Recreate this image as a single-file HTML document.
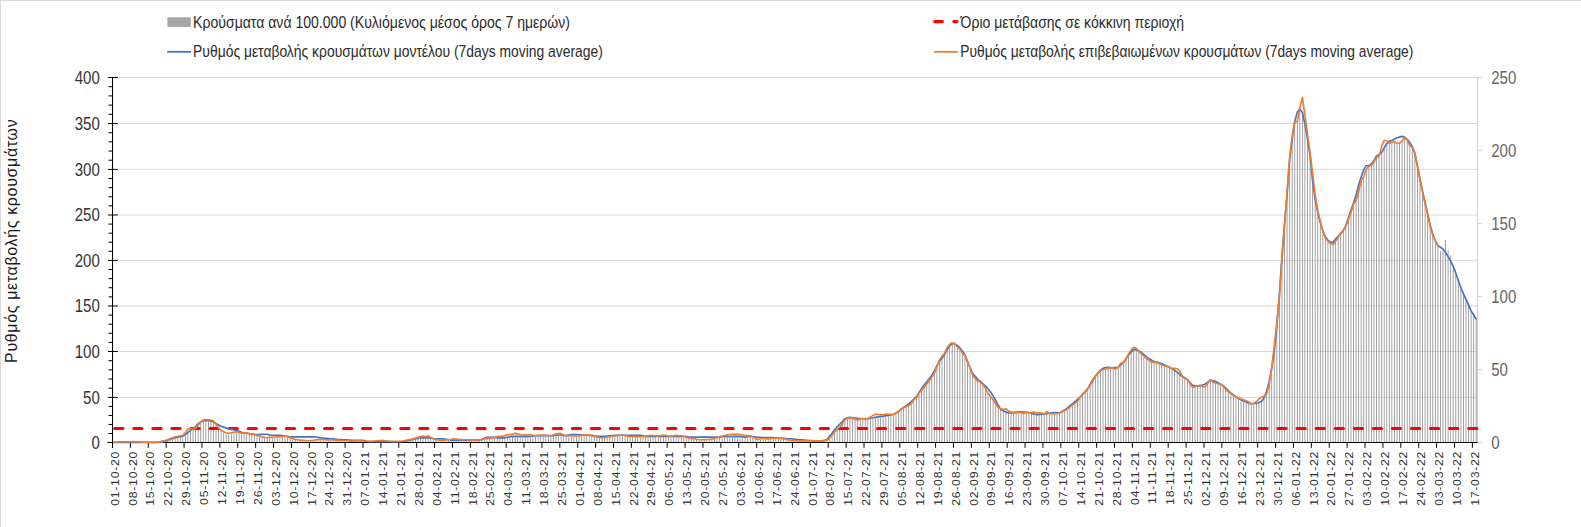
<!DOCTYPE html>
<html lang="el"><head><meta charset="utf-8"><title>Ρυθμός μεταβολής κρουσμάτων</title>
<style>html,body{margin:0;padding:0;background:#fff;overflow:hidden}svg{display:block}text{font-family:"Liberation Sans",sans-serif}.n{font-size:18.4px;fill:#333}.r{font-size:18.4px;fill:#666}.l{font-size:16.6px;fill:#2a2a2a}.d{font-size:11.2px;fill:#303030;letter-spacing:0.64px}.t{font-size:15.9px;fill:#1a1a1a}</style></head><body>
<svg width="1581" height="527" viewBox="0 0 1581 527">
<rect width="1581" height="527" fill="#fff"/>
<rect x="0" y="0" width="1581" height="1" fill="#d9d9d9"/><rect x="0" y="0" width="1" height="527" fill="#d9d9d9"/>
<g stroke="#d9d9d9" stroke-width="1">
<line x1="119" y1="397.40" x2="1477.5" y2="397.40"/>
<line x1="119" y1="351.50" x2="1477.5" y2="351.50"/>
<line x1="119" y1="306.00" x2="1477.5" y2="306.00"/>
<line x1="119" y1="260.40" x2="1477.5" y2="260.40"/>
<line x1="119" y1="215.00" x2="1477.5" y2="215.00"/>
<line x1="119" y1="169.40" x2="1477.5" y2="169.40"/>
<line x1="119" y1="123.50" x2="1477.5" y2="123.50"/>
<line x1="119" y1="77.50" x2="1477.5" y2="77.50"/>
</g>
<g fill="#909090">
<path d="M164.48 441.8h0.85V442.5h-0.85zM167.03 440.8h0.85V442.5h-0.85zM169.59 439.9h0.85V442.5h-0.85zM172.15 439.2h0.85V442.5h-0.85zM174.70 438.4h0.85V442.5h-0.85zM177.26 437.8h0.85V442.5h-0.85zM179.81 437.2h0.85V442.5h-0.85zM182.37 436.7h0.85V442.5h-0.85zM184.93 435.2h0.85V442.5h-0.85zM187.48 432.9h0.85V442.5h-0.85zM190.04 431.0h0.85V442.5h-0.85zM192.59 429.4h0.85V442.5h-0.85zM195.15 429.1h0.85V442.5h-0.85zM197.71 425.9h0.85V442.5h-0.85zM200.26 422.6h0.85V442.5h-0.85zM202.82 421.4h0.85V442.5h-0.85zM205.38 421.1h0.85V442.5h-0.85zM207.93 421.3h0.85V442.5h-0.85zM210.49 421.6h0.85V442.5h-0.85zM213.04 422.5h0.85V442.5h-0.85zM215.60 424.7h0.85V442.5h-0.85zM218.16 428.5h0.85V442.5h-0.85zM220.71 430.5h0.85V442.5h-0.85zM223.27 432.5h0.85V442.5h-0.85zM225.82 433.3h0.85V442.5h-0.85zM228.38 433.9h0.85V442.5h-0.85zM230.94 433.4h0.85V442.5h-0.85zM233.49 432.9h0.85V442.5h-0.85zM236.05 432.4h0.85V442.5h-0.85zM238.61 433.1h0.85V442.5h-0.85zM241.16 433.9h0.85V442.5h-0.85zM243.72 433.5h0.85V442.5h-0.85zM246.27 433.7h0.85V442.5h-0.85zM248.83 434.2h0.85V442.5h-0.85zM251.39 434.7h0.85V442.5h-0.85zM253.94 435.2h0.85V442.5h-0.85zM256.50 435.8h0.85V442.5h-0.85zM259.06 436.7h0.85V442.5h-0.85zM261.61 437.4h0.85V442.5h-0.85zM264.17 438.0h0.85V442.5h-0.85zM266.72 438.3h0.85V442.5h-0.85zM269.28 438.0h0.85V442.5h-0.85zM271.84 437.8h0.85V442.5h-0.85zM274.39 437.6h0.85V442.5h-0.85zM276.95 437.5h0.85V442.5h-0.85zM279.50 437.4h0.85V442.5h-0.85zM282.06 437.0h0.85V442.5h-0.85zM284.62 436.6h0.85V442.5h-0.85zM287.17 437.0h0.85V442.5h-0.85zM289.73 438.2h0.85V442.5h-0.85zM292.29 439.4h0.85V442.5h-0.85zM294.84 440.0h0.85V442.5h-0.85zM297.40 440.3h0.85V442.5h-0.85zM299.95 440.7h0.85V442.5h-0.85zM302.51 440.9h0.85V442.5h-0.85zM305.07 441.1h0.85V442.5h-0.85zM307.62 441.4h0.85V442.5h-0.85zM310.18 441.2h0.85V442.5h-0.85zM312.74 440.8h0.85V442.5h-0.85zM315.29 440.5h0.85V442.5h-0.85zM317.85 440.1h0.85V442.5h-0.85zM320.40 439.7h0.85V442.5h-0.85zM322.96 440.2h0.85V442.5h-0.85zM325.52 440.4h0.85V442.5h-0.85zM328.07 440.4h0.85V442.5h-0.85zM330.63 440.4h0.85V442.5h-0.85zM333.18 440.5h0.85V442.5h-0.85zM335.74 440.7h0.85V442.5h-0.85zM338.30 440.9h0.85V442.5h-0.85zM340.85 441.1h0.85V442.5h-0.85zM343.41 441.3h0.85V442.5h-0.85zM345.97 441.4h0.85V442.5h-0.85zM348.52 441.6h0.85V442.5h-0.85zM351.08 441.7h0.85V442.5h-0.85zM353.63 441.6h0.85V442.5h-0.85zM356.19 441.5h0.85V442.5h-0.85zM358.75 441.5h0.85V442.5h-0.85zM361.30 441.4h0.85V442.5h-0.85zM363.86 441.6h0.85V442.5h-0.85zM366.41 442.0h0.85V442.5h-0.85zM404.76 441.7h0.85V442.5h-0.85zM407.31 441.3h0.85V442.5h-0.85zM409.87 440.8h0.85V442.5h-0.85zM412.43 440.1h0.85V442.5h-0.85zM414.98 439.5h0.85V442.5h-0.85zM417.54 438.9h0.85V442.5h-0.85zM420.09 438.4h0.85V442.5h-0.85zM422.65 438.4h0.85V442.5h-0.85zM425.21 438.4h0.85V442.5h-0.85zM427.76 438.4h0.85V442.5h-0.85zM430.32 438.7h0.85V442.5h-0.85zM432.88 439.3h0.85V442.5h-0.85zM435.43 440.2h0.85V442.5h-0.85zM437.99 440.5h0.85V442.5h-0.85zM440.54 440.8h0.85V442.5h-0.85zM443.10 440.8h0.85V442.5h-0.85zM445.66 440.5h0.85V442.5h-0.85zM448.21 440.3h0.85V442.5h-0.85zM450.77 440.7h0.85V442.5h-0.85zM453.32 440.7h0.85V442.5h-0.85zM455.88 440.7h0.85V442.5h-0.85zM458.44 440.7h0.85V442.5h-0.85zM460.99 440.7h0.85V442.5h-0.85zM463.55 440.7h0.85V442.5h-0.85zM466.11 440.7h0.85V442.5h-0.85zM468.66 440.7h0.85V442.5h-0.85zM471.22 440.7h0.85V442.5h-0.85zM473.77 440.7h0.85V442.5h-0.85zM476.33 440.7h0.85V442.5h-0.85zM478.89 440.7h0.85V442.5h-0.85zM481.44 440.1h0.85V442.5h-0.85zM484.00 439.5h0.85V442.5h-0.85zM486.56 439.0h0.85V442.5h-0.85zM489.11 438.7h0.85V442.5h-0.85zM491.67 438.5h0.85V442.5h-0.85zM494.22 438.1h0.85V442.5h-0.85zM496.78 438.4h0.85V442.5h-0.85zM499.34 438.4h0.85V442.5h-0.85zM501.89 438.4h0.85V442.5h-0.85zM504.45 438.4h0.85V442.5h-0.85zM507.00 437.8h0.85V442.5h-0.85zM509.56 437.2h0.85V442.5h-0.85zM512.12 436.9h0.85V442.5h-0.85zM514.67 436.9h0.85V442.5h-0.85zM517.23 436.9h0.85V442.5h-0.85zM519.79 436.9h0.85V442.5h-0.85zM522.34 436.9h0.85V442.5h-0.85zM524.90 436.9h0.85V442.5h-0.85zM527.45 436.9h0.85V442.5h-0.85zM530.01 436.9h0.85V442.5h-0.85zM532.57 436.7h0.85V442.5h-0.85zM535.12 436.4h0.85V442.5h-0.85zM537.68 436.3h0.85V442.5h-0.85zM540.24 436.3h0.85V442.5h-0.85zM542.79 436.3h0.85V442.5h-0.85zM545.35 436.3h0.85V442.5h-0.85zM547.90 436.3h0.85V442.5h-0.85zM550.46 436.5h0.85V442.5h-0.85zM553.02 436.0h0.85V442.5h-0.85zM555.57 435.7h0.85V442.5h-0.85zM558.13 435.6h0.85V442.5h-0.85zM560.68 435.6h0.85V442.5h-0.85zM563.24 436.0h0.85V442.5h-0.85zM565.80 436.3h0.85V442.5h-0.85zM568.35 435.8h0.85V442.5h-0.85zM570.91 436.6h0.85V442.5h-0.85zM573.47 436.5h0.85V442.5h-0.85zM576.02 436.4h0.85V442.5h-0.85zM578.58 436.6h0.85V442.5h-0.85zM581.13 435.8h0.85V442.5h-0.85zM583.69 435.6h0.85V442.5h-0.85zM586.25 435.7h0.85V442.5h-0.85zM588.80 435.8h0.85V442.5h-0.85zM591.36 436.2h0.85V442.5h-0.85zM593.91 436.9h0.85V442.5h-0.85zM596.47 437.5h0.85V442.5h-0.85zM599.03 438.2h0.85V442.5h-0.85zM601.58 438.3h0.85V442.5h-0.85zM604.14 438.2h0.85V442.5h-0.85zM606.70 437.9h0.85V442.5h-0.85zM609.25 437.4h0.85V442.5h-0.85zM611.81 436.9h0.85V442.5h-0.85zM614.36 436.6h0.85V442.5h-0.85zM616.92 436.3h0.85V442.5h-0.85zM619.48 435.9h0.85V442.5h-0.85zM622.03 435.8h0.85V442.5h-0.85zM624.59 436.1h0.85V442.5h-0.85zM627.15 436.7h0.85V442.5h-0.85zM629.70 437.0h0.85V442.5h-0.85zM632.26 437.1h0.85V442.5h-0.85zM634.81 437.2h0.85V442.5h-0.85zM637.37 437.3h0.85V442.5h-0.85zM639.93 437.4h0.85V442.5h-0.85zM642.48 437.1h0.85V442.5h-0.85zM645.04 437.1h0.85V442.5h-0.85zM647.59 437.1h0.85V442.5h-0.85zM650.15 437.1h0.85V442.5h-0.85zM652.71 437.1h0.85V442.5h-0.85zM655.26 437.1h0.85V442.5h-0.85zM657.82 437.1h0.85V442.5h-0.85zM660.38 437.1h0.85V442.5h-0.85zM662.93 437.1h0.85V442.5h-0.85zM665.49 437.1h0.85V442.5h-0.85zM668.04 437.1h0.85V442.5h-0.85zM670.60 437.1h0.85V442.5h-0.85zM673.16 437.1h0.85V442.5h-0.85zM675.71 437.1h0.85V442.5h-0.85zM678.27 437.1h0.85V442.5h-0.85zM680.83 437.1h0.85V442.5h-0.85zM683.38 437.1h0.85V442.5h-0.85zM685.94 437.7h0.85V442.5h-0.85zM688.49 438.6h0.85V442.5h-0.85zM691.05 438.9h0.85V442.5h-0.85zM693.61 439.2h0.85V442.5h-0.85zM696.16 439.8h0.85V442.5h-0.85zM698.72 440.3h0.85V442.5h-0.85zM701.27 440.3h0.85V442.5h-0.85zM703.83 440.2h0.85V442.5h-0.85zM706.39 440.1h0.85V442.5h-0.85zM708.94 440.0h0.85V442.5h-0.85zM711.50 439.8h0.85V442.5h-0.85zM714.06 439.0h0.85V442.5h-0.85zM716.61 438.2h0.85V442.5h-0.85zM719.17 437.7h0.85V442.5h-0.85zM721.72 437.4h0.85V442.5h-0.85zM724.28 437.1h0.85V442.5h-0.85zM726.84 437.1h0.85V442.5h-0.85zM729.39 437.1h0.85V442.5h-0.85zM731.95 437.0h0.85V442.5h-0.85zM734.50 437.0h0.85V442.5h-0.85zM737.06 437.0h0.85V442.5h-0.85zM739.62 437.0h0.85V442.5h-0.85zM742.17 437.3h0.85V442.5h-0.85zM744.73 437.7h0.85V442.5h-0.85zM747.29 437.4h0.85V442.5h-0.85zM749.84 436.8h0.85V442.5h-0.85zM752.40 437.7h0.85V442.5h-0.85zM754.95 439.0h0.85V442.5h-0.85zM757.51 440.1h0.85V442.5h-0.85zM760.07 439.4h0.85V442.5h-0.85zM762.62 438.9h0.85V442.5h-0.85zM765.18 439.2h0.85V442.5h-0.85zM767.74 439.5h0.85V442.5h-0.85zM770.29 439.2h0.85V442.5h-0.85zM772.85 438.9h0.85V442.5h-0.85zM775.40 438.8h0.85V442.5h-0.85zM777.96 438.9h0.85V442.5h-0.85zM780.52 438.9h0.85V442.5h-0.85zM783.07 439.0h0.85V442.5h-0.85zM785.63 439.8h0.85V442.5h-0.85zM788.18 440.5h0.85V442.5h-0.85zM790.74 440.8h0.85V442.5h-0.85zM793.30 441.1h0.85V442.5h-0.85zM795.85 441.4h0.85V442.5h-0.85zM798.41 441.5h0.85V442.5h-0.85zM800.97 441.5h0.85V442.5h-0.85zM803.52 441.5h0.85V442.5h-0.85zM806.08 441.5h0.85V442.5h-0.85zM808.63 441.5h0.85V442.5h-0.85zM811.19 441.5h0.85V442.5h-0.85zM813.75 441.5h0.85V442.5h-0.85zM816.30 441.5h0.85V442.5h-0.85zM818.86 441.5h0.85V442.5h-0.85zM821.41 441.5h0.85V442.5h-0.85zM823.97 441.4h0.85V442.5h-0.85zM826.53 440.8h0.85V442.5h-0.85zM829.08 438.9h0.85V442.5h-0.85zM831.64 435.8h0.85V442.5h-0.85zM834.20 432.5h0.85V442.5h-0.85zM836.75 430.0h0.85V442.5h-0.85zM839.31 427.6h0.85V442.5h-0.85zM841.86 424.6h0.85V442.5h-0.85zM844.42 420.5h0.85V442.5h-0.85zM846.98 418.7h0.85V442.5h-0.85zM849.53 418.4h0.85V442.5h-0.85zM852.09 418.7h0.85V442.5h-0.85zM854.65 419.9h0.85V442.5h-0.85zM857.20 420.8h0.85V442.5h-0.85zM859.76 419.1h0.85V442.5h-0.85zM862.31 419.3h0.85V442.5h-0.85zM864.87 419.5h0.85V442.5h-0.85zM867.43 419.3h0.85V442.5h-0.85zM869.98 418.8h0.85V442.5h-0.85zM872.54 418.4h0.85V442.5h-0.85zM875.09 417.9h0.85V442.5h-0.85zM877.65 417.5h0.85V442.5h-0.85zM880.21 417.1h0.85V442.5h-0.85zM882.76 416.7h0.85V442.5h-0.85zM885.32 416.3h0.85V442.5h-0.85zM887.88 416.0h0.85V442.5h-0.85zM890.43 415.6h0.85V442.5h-0.85zM892.99 415.2h0.85V442.5h-0.85zM895.54 413.9h0.85V442.5h-0.85zM898.10 412.0h0.85V442.5h-0.85zM900.66 409.9h0.85V442.5h-0.85zM903.21 408.3h0.85V442.5h-0.85zM905.77 407.0h0.85V442.5h-0.85zM908.33 406.1h0.85V442.5h-0.85zM910.88 404.4h0.85V442.5h-0.85zM913.44 400.2h0.85V442.5h-0.85zM915.99 398.4h0.85V442.5h-0.85zM918.55 393.8h0.85V442.5h-0.85zM921.11 391.1h0.85V442.5h-0.85zM923.66 388.3h0.85V442.5h-0.85zM926.22 384.8h0.85V442.5h-0.85zM928.77 381.4h0.85V442.5h-0.85zM931.33 378.0h0.85V442.5h-0.85zM933.89 374.0h0.85V442.5h-0.85zM936.44 367.3h0.85V442.5h-0.85zM939.00 362.4h0.85V442.5h-0.85zM941.56 358.8h0.85V442.5h-0.85zM944.11 355.3h0.85V442.5h-0.85zM946.67 350.0h0.85V442.5h-0.85zM949.22 346.5h0.85V442.5h-0.85zM951.78 344.1h0.85V442.5h-0.85zM954.34 344.5h0.85V442.5h-0.85zM956.89 347.5h0.85V442.5h-0.85zM959.45 349.8h0.85V442.5h-0.85zM962.00 353.5h0.85V442.5h-0.85zM964.56 356.7h0.85V442.5h-0.85zM967.12 362.8h0.85V442.5h-0.85zM969.67 368.6h0.85V442.5h-0.85zM972.23 375.7h0.85V442.5h-0.85zM974.79 379.5h0.85V442.5h-0.85zM977.34 381.8h0.85V442.5h-0.85zM979.90 382.6h0.85V442.5h-0.85zM982.45 384.7h0.85V442.5h-0.85zM985.01 389.2h0.85V442.5h-0.85zM987.57 394.0h0.85V442.5h-0.85zM990.12 396.9h0.85V442.5h-0.85zM992.68 400.4h0.85V442.5h-0.85zM995.24 404.3h0.85V442.5h-0.85zM997.79 408.3h0.85V442.5h-0.85zM1000.35 410.0h0.85V442.5h-0.85zM1002.90 411.3h0.85V442.5h-0.85zM1005.46 412.7h0.85V442.5h-0.85zM1008.02 413.6h0.85V442.5h-0.85zM1010.57 413.6h0.85V442.5h-0.85zM1013.13 413.5h0.85V442.5h-0.85zM1015.68 413.0h0.85V442.5h-0.85zM1018.24 412.8h0.85V442.5h-0.85zM1020.80 413.1h0.85V442.5h-0.85zM1023.35 414.4h0.85V442.5h-0.85zM1025.91 412.9h0.85V442.5h-0.85zM1028.47 413.4h0.85V442.5h-0.85zM1031.02 414.0h0.85V442.5h-0.85zM1033.58 414.6h0.85V442.5h-0.85zM1036.13 415.2h0.85V442.5h-0.85zM1038.69 415.2h0.85V442.5h-0.85zM1041.25 414.9h0.85V442.5h-0.85zM1043.80 414.9h0.85V442.5h-0.85zM1046.36 414.3h0.85V442.5h-0.85zM1048.91 413.9h0.85V442.5h-0.85zM1051.47 414.5h0.85V442.5h-0.85zM1054.03 414.6h0.85V442.5h-0.85zM1056.58 414.4h0.85V442.5h-0.85zM1059.14 413.5h0.85V442.5h-0.85zM1061.70 412.4h0.85V442.5h-0.85zM1064.25 411.4h0.85V442.5h-0.85zM1066.81 409.7h0.85V442.5h-0.85zM1069.36 407.7h0.85V442.5h-0.85zM1071.92 405.8h0.85V442.5h-0.85zM1074.48 403.9h0.85V442.5h-0.85zM1077.03 401.9h0.85V442.5h-0.85zM1079.59 398.1h0.85V442.5h-0.85zM1082.15 395.1h0.85V442.5h-0.85zM1084.70 392.3h0.85V442.5h-0.85zM1087.26 389.5h0.85V442.5h-0.85zM1089.81 385.4h0.85V442.5h-0.85zM1092.37 381.1h0.85V442.5h-0.85zM1094.93 376.9h0.85V442.5h-0.85zM1097.48 374.0h0.85V442.5h-0.85zM1100.04 371.4h0.85V442.5h-0.85zM1102.59 370.4h0.85V442.5h-0.85zM1105.15 369.6h0.85V442.5h-0.85zM1107.71 369.0h0.85V442.5h-0.85zM1110.26 368.5h0.85V442.5h-0.85zM1112.82 368.6h0.85V442.5h-0.85zM1115.38 369.8h0.85V442.5h-0.85zM1117.93 367.8h0.85V442.5h-0.85zM1120.49 365.3h0.85V442.5h-0.85zM1123.04 363.6h0.85V442.5h-0.85zM1125.60 359.5h0.85V442.5h-0.85zM1128.16 355.6h0.85V442.5h-0.85zM1130.71 352.7h0.85V442.5h-0.85zM1133.27 350.0h0.85V442.5h-0.85zM1135.83 350.3h0.85V442.5h-0.85zM1138.38 351.6h0.85V442.5h-0.85zM1140.94 354.5h0.85V442.5h-0.85zM1143.49 356.7h0.85V442.5h-0.85zM1146.05 359.0h0.85V442.5h-0.85zM1148.61 361.0h0.85V442.5h-0.85zM1151.16 363.0h0.85V442.5h-0.85zM1153.72 362.8h0.85V442.5h-0.85zM1156.27 362.8h0.85V442.5h-0.85zM1158.83 364.3h0.85V442.5h-0.85zM1161.39 365.8h0.85V442.5h-0.85zM1163.94 366.4h0.85V442.5h-0.85zM1166.50 366.7h0.85V442.5h-0.85zM1169.06 368.0h0.85V442.5h-0.85zM1171.61 369.4h0.85V442.5h-0.85zM1174.17 370.9h0.85V442.5h-0.85zM1176.72 372.7h0.85V442.5h-0.85zM1179.28 374.9h0.85V442.5h-0.85zM1181.84 377.1h0.85V442.5h-0.85zM1184.39 378.7h0.85V442.5h-0.85zM1186.95 380.3h0.85V442.5h-0.85zM1189.50 383.7h0.85V442.5h-0.85zM1192.06 388.0h0.85V442.5h-0.85zM1194.62 387.3h0.85V442.5h-0.85zM1197.17 386.8h0.85V442.5h-0.85zM1199.73 386.5h0.85V442.5h-0.85zM1202.29 387.0h0.85V442.5h-0.85zM1204.84 387.5h0.85V442.5h-0.85zM1207.40 383.8h0.85V442.5h-0.85zM1209.95 380.9h0.85V442.5h-0.85zM1212.51 382.2h0.85V442.5h-0.85zM1215.07 383.9h0.85V442.5h-0.85zM1217.62 384.2h0.85V442.5h-0.85zM1220.18 384.8h0.85V442.5h-0.85zM1222.74 386.6h0.85V442.5h-0.85zM1225.29 389.9h0.85V442.5h-0.85zM1227.85 392.1h0.85V442.5h-0.85zM1230.40 394.2h0.85V442.5h-0.85zM1232.96 396.0h0.85V442.5h-0.85zM1235.52 397.5h0.85V442.5h-0.85zM1238.07 398.9h0.85V442.5h-0.85zM1240.63 400.3h0.85V442.5h-0.85zM1243.18 401.7h0.85V442.5h-0.85zM1245.74 402.7h0.85V442.5h-0.85zM1248.30 403.5h0.85V442.5h-0.85zM1250.85 404.6h0.85V442.5h-0.85zM1253.41 404.1h0.85V442.5h-0.85zM1255.97 403.9h0.85V442.5h-0.85zM1258.52 403.1h0.85V442.5h-0.85zM1261.08 402.1h0.85V442.5h-0.85zM1263.63 398.4h0.85V442.5h-0.85zM1266.19 394.8h0.85V442.5h-0.85zM1268.75 384.8h0.85V442.5h-0.85zM1271.30 368.8h0.85V442.5h-0.85zM1273.86 351.6h0.85V442.5h-0.85zM1276.41 326.5h0.85V442.5h-0.85zM1278.97 297.5h0.85V442.5h-0.85zM1281.53 259.6h0.85V442.5h-0.85zM1284.08 226.9h0.85V442.5h-0.85zM1286.64 194.8h0.85V442.5h-0.85zM1289.20 160.5h0.85V442.5h-0.85zM1291.75 139.8h0.85V442.5h-0.85zM1294.31 122.3h0.85V442.5h-0.85zM1296.86 122.2h0.85V442.5h-0.85zM1299.42 109.5h0.85V442.5h-0.85zM1301.98 113.1h0.85V442.5h-0.85zM1304.53 124.8h0.85V442.5h-0.85zM1307.09 139.5h0.85V442.5h-0.85zM1309.65 156.1h0.85V442.5h-0.85zM1312.20 181.4h0.85V442.5h-0.85zM1314.76 200.5h0.85V442.5h-0.85zM1317.31 212.8h0.85V442.5h-0.85zM1319.87 222.8h0.85V442.5h-0.85zM1322.43 231.8h0.85V442.5h-0.85zM1324.98 238.8h0.85V442.5h-0.85zM1327.54 241.9h0.85V442.5h-0.85zM1330.09 244.0h0.85V442.5h-0.85zM1332.65 245.4h0.85V442.5h-0.85zM1335.21 241.9h0.85V442.5h-0.85zM1337.76 238.0h0.85V442.5h-0.85zM1340.32 234.4h0.85V442.5h-0.85zM1342.88 231.2h0.85V442.5h-0.85zM1345.43 226.8h0.85V442.5h-0.85zM1347.99 220.2h0.85V442.5h-0.85zM1350.54 212.5h0.85V442.5h-0.85zM1353.10 205.1h0.85V442.5h-0.85zM1355.66 200.7h0.85V442.5h-0.85zM1358.21 192.7h0.85V442.5h-0.85zM1360.77 180.9h0.85V442.5h-0.85zM1363.33 177.2h0.85V442.5h-0.85zM1365.88 169.8h0.85V442.5h-0.85zM1368.44 166.9h0.85V442.5h-0.85zM1370.99 166.2h0.85V442.5h-0.85zM1373.55 162.3h0.85V442.5h-0.85zM1376.11 158.3h0.85V442.5h-0.85zM1378.66 156.7h0.85V442.5h-0.85zM1381.22 152.9h0.85V442.5h-0.85zM1383.77 148.5h0.85V442.5h-0.85zM1386.33 144.2h0.85V442.5h-0.85zM1388.89 144.0h0.85V442.5h-0.85zM1391.44 142.9h0.85V442.5h-0.85zM1394.00 142.4h0.85V442.5h-0.85zM1396.56 143.8h0.85V442.5h-0.85zM1399.11 143.8h0.85V442.5h-0.85zM1401.67 141.7h0.85V442.5h-0.85zM1404.22 138.2h0.85V442.5h-0.85zM1406.78 140.6h0.85V442.5h-0.85zM1409.34 146.2h0.85V442.5h-0.85zM1411.89 147.8h0.85V442.5h-0.85zM1414.45 154.5h0.85V442.5h-0.85zM1417.00 166.6h0.85V442.5h-0.85zM1419.56 180.1h0.85V442.5h-0.85zM1422.12 192.1h0.85V442.5h-0.85zM1424.67 204.1h0.85V442.5h-0.85zM1427.23 215.9h0.85V442.5h-0.85zM1429.79 226.7h0.85V442.5h-0.85zM1432.34 236.1h0.85V442.5h-0.85zM1434.90 241.3h0.85V442.5h-0.85zM1437.45 246.8h0.85V442.5h-0.85zM1440.01 251.1h0.85V442.5h-0.85zM1442.57 251.1h0.85V442.5h-0.85zM1445.12 240.0h0.85V442.5h-0.85zM1447.68 249.8h0.85V442.5h-0.85zM1450.24 255.3h0.85V442.5h-0.85zM1452.79 266.9h0.85V442.5h-0.85zM1455.35 273.7h0.85V442.5h-0.85zM1457.90 281.1h0.85V442.5h-0.85zM1460.46 288.5h0.85V442.5h-0.85zM1463.02 294.2h0.85V442.5h-0.85zM1465.57 299.9h0.85V442.5h-0.85zM1468.13 305.7h0.85V442.5h-0.85zM1470.68 311.5h0.85V442.5h-0.85zM1473.24 315.6h0.85V442.5h-0.85zM1475.80 319.7h0.85V442.5h-0.85z"/>
</g>
<g stroke="#d0d0d0" stroke-width="1">
<line x1="1477.5" y1="77" x2="1477.5" y2="443"/>
<line x1="1477.5" y1="442.50" x2="1482.0" y2="442.50"/>
<line x1="1477.5" y1="369.50" x2="1482.0" y2="369.50"/>
<line x1="1477.5" y1="296.50" x2="1482.0" y2="296.50"/>
<line x1="1477.5" y1="223.50" x2="1482.0" y2="223.50"/>
<line x1="1477.5" y1="150.50" x2="1482.0" y2="150.50"/>
<line x1="1477.5" y1="77.50" x2="1482.0" y2="77.50"/>
</g>
<g stroke="#000" stroke-width="1">
<line x1="112.5" y1="77" x2="112.5" y2="448"/>
<line x1="107.9" y1="442.50" x2="117.9" y2="442.50"/>
<line x1="108.5" y1="433.48" x2="112.5" y2="433.48"/>
<line x1="108.5" y1="424.46" x2="112.5" y2="424.46"/>
<line x1="108.5" y1="415.44" x2="112.5" y2="415.44"/>
<line x1="108.5" y1="406.42" x2="112.5" y2="406.42"/>
<line x1="107.9" y1="397.40" x2="117.9" y2="397.40"/>
<line x1="108.5" y1="388.22" x2="112.5" y2="388.22"/>
<line x1="108.5" y1="379.04" x2="112.5" y2="379.04"/>
<line x1="108.5" y1="369.86" x2="112.5" y2="369.86"/>
<line x1="108.5" y1="360.68" x2="112.5" y2="360.68"/>
<line x1="107.9" y1="351.50" x2="117.9" y2="351.50"/>
<line x1="108.5" y1="342.40" x2="112.5" y2="342.40"/>
<line x1="108.5" y1="333.30" x2="112.5" y2="333.30"/>
<line x1="108.5" y1="324.20" x2="112.5" y2="324.20"/>
<line x1="108.5" y1="315.10" x2="112.5" y2="315.10"/>
<line x1="107.9" y1="306.00" x2="117.9" y2="306.00"/>
<line x1="108.5" y1="296.88" x2="112.5" y2="296.88"/>
<line x1="108.5" y1="287.76" x2="112.5" y2="287.76"/>
<line x1="108.5" y1="278.64" x2="112.5" y2="278.64"/>
<line x1="108.5" y1="269.52" x2="112.5" y2="269.52"/>
<line x1="107.9" y1="260.40" x2="117.9" y2="260.40"/>
<line x1="108.5" y1="251.32" x2="112.5" y2="251.32"/>
<line x1="108.5" y1="242.24" x2="112.5" y2="242.24"/>
<line x1="108.5" y1="233.16" x2="112.5" y2="233.16"/>
<line x1="108.5" y1="224.08" x2="112.5" y2="224.08"/>
<line x1="107.9" y1="215.00" x2="117.9" y2="215.00"/>
<line x1="108.5" y1="205.88" x2="112.5" y2="205.88"/>
<line x1="108.5" y1="196.76" x2="112.5" y2="196.76"/>
<line x1="108.5" y1="187.64" x2="112.5" y2="187.64"/>
<line x1="108.5" y1="178.52" x2="112.5" y2="178.52"/>
<line x1="107.9" y1="169.40" x2="117.9" y2="169.40"/>
<line x1="108.5" y1="160.22" x2="112.5" y2="160.22"/>
<line x1="108.5" y1="151.04" x2="112.5" y2="151.04"/>
<line x1="108.5" y1="141.86" x2="112.5" y2="141.86"/>
<line x1="108.5" y1="132.68" x2="112.5" y2="132.68"/>
<line x1="107.9" y1="123.50" x2="117.9" y2="123.50"/>
<line x1="108.5" y1="114.30" x2="112.5" y2="114.30"/>
<line x1="108.5" y1="105.10" x2="112.5" y2="105.10"/>
<line x1="108.5" y1="95.90" x2="112.5" y2="95.90"/>
<line x1="108.5" y1="86.70" x2="112.5" y2="86.70"/>
<line x1="107.9" y1="77.50" x2="117.9" y2="77.50"/>
<line x1="107.5" y1="442.5" x2="1477.5" y2="442.5"/>
<line x1="112.50" y1="442.5" x2="112.50" y2="447.8"/>
<line x1="130.39" y1="442.5" x2="130.39" y2="447.8"/>
<line x1="148.29" y1="442.5" x2="148.29" y2="447.8"/>
<line x1="166.18" y1="442.5" x2="166.18" y2="447.8"/>
<line x1="184.07" y1="442.5" x2="184.07" y2="447.8"/>
<line x1="201.97" y1="442.5" x2="201.97" y2="447.8"/>
<line x1="219.86" y1="442.5" x2="219.86" y2="447.8"/>
<line x1="237.75" y1="442.5" x2="237.75" y2="447.8"/>
<line x1="255.65" y1="442.5" x2="255.65" y2="447.8"/>
<line x1="273.54" y1="442.5" x2="273.54" y2="447.8"/>
<line x1="291.43" y1="442.5" x2="291.43" y2="447.8"/>
<line x1="309.33" y1="442.5" x2="309.33" y2="447.8"/>
<line x1="327.22" y1="442.5" x2="327.22" y2="447.8"/>
<line x1="345.11" y1="442.5" x2="345.11" y2="447.8"/>
<line x1="363.01" y1="442.5" x2="363.01" y2="447.8"/>
<line x1="380.90" y1="442.5" x2="380.90" y2="447.8"/>
<line x1="398.79" y1="442.5" x2="398.79" y2="447.8"/>
<line x1="416.69" y1="442.5" x2="416.69" y2="447.8"/>
<line x1="434.58" y1="442.5" x2="434.58" y2="447.8"/>
<line x1="452.47" y1="442.5" x2="452.47" y2="447.8"/>
<line x1="470.37" y1="442.5" x2="470.37" y2="447.8"/>
<line x1="488.26" y1="442.5" x2="488.26" y2="447.8"/>
<line x1="506.15" y1="442.5" x2="506.15" y2="447.8"/>
<line x1="524.04" y1="442.5" x2="524.04" y2="447.8"/>
<line x1="541.94" y1="442.5" x2="541.94" y2="447.8"/>
<line x1="559.83" y1="442.5" x2="559.83" y2="447.8"/>
<line x1="577.72" y1="442.5" x2="577.72" y2="447.8"/>
<line x1="595.62" y1="442.5" x2="595.62" y2="447.8"/>
<line x1="613.51" y1="442.5" x2="613.51" y2="447.8"/>
<line x1="631.40" y1="442.5" x2="631.40" y2="447.8"/>
<line x1="649.30" y1="442.5" x2="649.30" y2="447.8"/>
<line x1="667.19" y1="442.5" x2="667.19" y2="447.8"/>
<line x1="685.08" y1="442.5" x2="685.08" y2="447.8"/>
<line x1="702.98" y1="442.5" x2="702.98" y2="447.8"/>
<line x1="720.87" y1="442.5" x2="720.87" y2="447.8"/>
<line x1="738.76" y1="442.5" x2="738.76" y2="447.8"/>
<line x1="756.66" y1="442.5" x2="756.66" y2="447.8"/>
<line x1="774.55" y1="442.5" x2="774.55" y2="447.8"/>
<line x1="792.44" y1="442.5" x2="792.44" y2="447.8"/>
<line x1="810.34" y1="442.5" x2="810.34" y2="447.8"/>
<line x1="828.23" y1="442.5" x2="828.23" y2="447.8"/>
<line x1="846.12" y1="442.5" x2="846.12" y2="447.8"/>
<line x1="864.02" y1="442.5" x2="864.02" y2="447.8"/>
<line x1="881.91" y1="442.5" x2="881.91" y2="447.8"/>
<line x1="899.80" y1="442.5" x2="899.80" y2="447.8"/>
<line x1="917.70" y1="442.5" x2="917.70" y2="447.8"/>
<line x1="935.59" y1="442.5" x2="935.59" y2="447.8"/>
<line x1="953.48" y1="442.5" x2="953.48" y2="447.8"/>
<line x1="971.38" y1="442.5" x2="971.38" y2="447.8"/>
<line x1="989.27" y1="442.5" x2="989.27" y2="447.8"/>
<line x1="1007.16" y1="442.5" x2="1007.16" y2="447.8"/>
<line x1="1025.06" y1="442.5" x2="1025.06" y2="447.8"/>
<line x1="1042.95" y1="442.5" x2="1042.95" y2="447.8"/>
<line x1="1060.84" y1="442.5" x2="1060.84" y2="447.8"/>
<line x1="1078.74" y1="442.5" x2="1078.74" y2="447.8"/>
<line x1="1096.63" y1="442.5" x2="1096.63" y2="447.8"/>
<line x1="1114.52" y1="442.5" x2="1114.52" y2="447.8"/>
<line x1="1132.42" y1="442.5" x2="1132.42" y2="447.8"/>
<line x1="1150.31" y1="442.5" x2="1150.31" y2="447.8"/>
<line x1="1168.20" y1="442.5" x2="1168.20" y2="447.8"/>
<line x1="1186.10" y1="442.5" x2="1186.10" y2="447.8"/>
<line x1="1203.99" y1="442.5" x2="1203.99" y2="447.8"/>
<line x1="1221.88" y1="442.5" x2="1221.88" y2="447.8"/>
<line x1="1239.78" y1="442.5" x2="1239.78" y2="447.8"/>
<line x1="1257.67" y1="442.5" x2="1257.67" y2="447.8"/>
<line x1="1275.56" y1="442.5" x2="1275.56" y2="447.8"/>
<line x1="1293.46" y1="442.5" x2="1293.46" y2="447.8"/>
<line x1="1311.35" y1="442.5" x2="1311.35" y2="447.8"/>
<line x1="1329.24" y1="442.5" x2="1329.24" y2="447.8"/>
<line x1="1347.13" y1="442.5" x2="1347.13" y2="447.8"/>
<line x1="1365.03" y1="442.5" x2="1365.03" y2="447.8"/>
<line x1="1382.92" y1="442.5" x2="1382.92" y2="447.8"/>
<line x1="1400.81" y1="442.5" x2="1400.81" y2="447.8"/>
<line x1="1418.71" y1="442.5" x2="1418.71" y2="447.8"/>
<line x1="1436.60" y1="442.5" x2="1436.60" y2="447.8"/>
<line x1="1454.49" y1="442.5" x2="1454.49" y2="447.8"/>
<line x1="1472.39" y1="442.5" x2="1472.39" y2="447.8"/>
</g>
<line x1="114.7" y1="428.5" x2="1477.5" y2="428.5" stroke="#ff0000" stroke-width="3.1" stroke-linecap="round" stroke-dasharray="8.2 10.87"/>
<polyline fill="none" stroke="#4472c4" stroke-width="1.65" stroke-linejoin="round" stroke-linecap="round" points="113.8,442.4 116.3,442.4 118.9,442.4 121.4,442.4 124.0,442.4 126.6,442.4 129.1,442.4 131.7,442.4 134.2,442.4 136.8,442.4 139.3,442.4 141.9,442.4 144.5,442.4 147.0,442.4 149.6,442.4 152.1,442.4 154.7,442.4 157.2,442.4 159.8,442.3 162.3,442.1 164.9,441.2 167.5,440.2 170.0,439.3 172.6,438.6 175.1,437.8 177.7,437.2 180.2,436.6 182.8,436.1 185.4,434.6 187.9,432.3 190.5,430.4 193.0,428.8 195.6,426.5 198.1,423.7 200.7,422.0 203.2,420.8 205.8,420.5 208.4,420.7 210.9,421.0 213.5,421.9 216.0,423.5 218.6,424.9 221.1,426.2 223.7,427.1 226.2,428.0 228.8,428.9 231.4,429.4 233.9,429.9 236.5,430.5 239.0,431.4 241.6,432.3 244.1,432.7 246.7,433.1 249.3,433.6 251.8,433.9 254.4,434.3 256.9,434.6 259.5,434.5 262.0,434.4 264.6,434.3 267.1,434.2 269.7,435.1 272.3,435.2 274.8,435.2 277.4,435.2 279.9,435.2 282.5,435.6 285.0,436.0 287.6,436.4 290.2,436.8 292.7,436.8 295.3,436.8 297.8,436.8 300.4,436.8 302.9,436.8 305.5,436.8 308.0,436.8 310.6,436.8 313.2,436.8 315.7,437.0 318.3,437.4 320.8,437.8 323.4,438.1 325.9,438.3 328.5,438.5 331.1,438.7 333.6,438.9 336.2,439.2 338.7,439.5 341.3,439.6 343.8,439.7 346.4,439.8 348.9,440.0 351.5,440.3 354.1,440.3 356.6,440.3 359.2,440.3 361.7,440.3 364.3,440.6 366.8,441.4 369.4,441.5 372.0,441.5 374.5,441.5 377.1,441.6 379.6,441.6 382.2,441.6 384.7,441.6 387.3,441.6 389.8,441.6 392.4,441.6 395.0,441.7 397.5,441.7 400.1,441.7 402.6,441.5 405.2,441.1 407.7,440.7 410.3,440.2 412.9,439.5 415.4,438.9 418.0,438.3 420.5,437.8 423.1,437.8 425.6,437.8 428.2,437.8 430.7,438.1 433.3,438.5 435.9,438.8 438.4,438.8 441.0,438.8 443.5,438.8 446.1,439.2 448.6,439.7 451.2,440.1 453.8,440.1 456.3,440.1 458.9,440.1 461.4,440.1 464.0,440.1 466.5,440.1 469.1,440.1 471.6,440.1 474.2,440.1 476.8,440.1 479.3,440.1 481.9,439.5 484.4,438.1 487.0,437.3 489.5,437.3 492.1,437.3 494.6,437.5 497.2,437.8 499.8,437.8 502.3,437.8 504.9,437.8 507.4,437.2 510.0,436.6 512.5,436.3 515.1,436.3 517.7,436.3 520.2,436.3 522.8,436.3 525.3,436.3 527.9,436.3 530.4,436.3 533.0,436.1 535.5,435.8 538.1,435.7 540.7,435.7 543.2,435.7 545.8,435.7 548.3,435.7 550.9,435.7 553.4,435.4 556.0,435.1 558.6,435.0 561.1,435.0 563.7,435.4 566.2,435.7 568.8,435.1 571.3,434.5 573.9,434.5 576.4,434.6 579.0,434.8 581.6,434.9 584.1,435.0 586.7,435.1 589.2,435.2 591.8,435.4 594.3,435.8 596.9,436.1 599.5,436.3 602.0,436.3 604.6,436.3 607.1,436.0 609.7,435.8 612.2,435.6 614.8,435.4 617.3,435.2 619.9,435.2 622.5,435.2 625.0,435.2 627.6,435.2 630.1,435.2 632.7,435.2 635.2,435.2 637.8,435.2 640.4,435.2 642.9,435.9 645.5,436.5 648.0,436.5 650.6,436.5 653.1,436.5 655.7,436.5 658.2,436.5 660.8,436.5 663.4,436.5 665.9,436.5 668.5,436.5 671.0,436.5 673.6,436.5 676.1,436.5 678.7,436.5 681.2,436.5 683.8,436.5 686.4,436.6 688.9,436.9 691.5,437.1 694.0,437.1 696.6,437.1 699.1,437.1 701.7,437.1 704.3,437.1 706.8,437.1 709.4,437.1 711.9,437.1 714.5,437.1 717.0,437.1 719.6,437.1 722.1,436.8 724.7,436.5 727.3,436.5 729.8,436.5 732.4,436.4 734.9,436.4 737.5,436.4 740.0,436.4 742.6,436.7 745.2,437.1 747.7,436.8 750.3,436.2 752.8,436.5 755.4,436.9 757.9,437.2 760.5,437.3 763.0,437.5 765.6,437.6 768.2,437.6 770.7,437.6 773.3,437.6 775.8,437.8 778.4,438.0 780.9,438.3 783.5,438.4 786.1,438.6 788.6,438.7 791.2,438.8 793.7,439.0 796.3,439.4 798.8,439.7 801.4,439.9 803.9,440.1 806.5,440.3 809.1,440.5 811.6,440.6 814.2,440.7 816.7,440.7 819.3,440.8 821.8,440.9 824.4,440.4 827.0,439.4 829.5,436.3 832.1,433.2 834.6,429.8 837.2,426.8 839.7,424.2 842.3,421.5 844.8,418.7 847.4,417.7 850.0,417.4 852.5,417.7 855.1,418.0 857.6,418.3 860.2,418.5 862.7,418.7 865.3,418.9 867.9,418.7 870.4,418.2 873.0,417.8 875.5,417.3 878.1,416.9 880.6,416.5 883.2,416.1 885.7,415.7 888.3,415.4 890.9,415.0 893.4,414.2 896.0,413.0 898.5,411.3 901.1,409.3 903.6,407.5 906.2,405.7 908.8,403.8 911.3,401.5 913.9,399.1 916.4,396.5 919.0,392.6 921.5,388.7 924.1,385.0 926.6,381.9 929.2,378.8 931.8,375.3 934.3,371.3 936.9,365.6 939.4,361.8 942.0,358.2 944.5,354.7 947.1,349.4 949.6,345.9 952.2,343.5 954.8,343.9 957.3,345.4 959.9,347.9 962.4,351.0 965.0,355.2 967.5,361.2 970.1,368.0 972.7,373.6 975.2,376.4 977.8,379.2 980.3,382.0 982.9,384.0 985.4,385.9 988.0,388.8 990.5,391.9 993.1,395.9 995.7,400.5 998.2,405.2 1000.8,409.4 1003.3,410.7 1005.9,412.1 1008.4,413.0 1011.0,413.0 1013.6,412.9 1016.1,412.4 1018.7,411.9 1021.2,411.7 1023.8,412.0 1026.3,412.3 1028.9,412.8 1031.4,413.4 1034.0,414.0 1036.6,414.6 1039.1,414.6 1041.7,414.3 1044.2,414.0 1046.8,413.7 1049.3,413.3 1051.9,412.9 1054.5,412.5 1057.0,412.8 1059.6,412.9 1062.1,411.5 1064.7,410.1 1067.2,408.1 1069.8,406.0 1072.3,403.9 1074.9,401.7 1077.5,399.5 1080.0,397.2 1082.6,394.5 1085.1,391.7 1087.7,388.9 1090.2,384.8 1092.8,380.5 1095.4,376.1 1097.9,373.0 1100.5,370.1 1103.0,368.3 1105.6,367.5 1108.1,367.4 1110.7,367.5 1113.2,367.6 1115.8,367.5 1118.4,367.2 1120.9,364.7 1123.5,362.2 1126.0,358.9 1128.6,355.0 1131.1,352.1 1133.7,349.4 1136.2,349.7 1138.8,351.0 1141.4,352.3 1143.9,354.6 1146.5,356.9 1149.0,358.6 1151.6,360.2 1154.1,361.5 1156.7,362.1 1159.3,362.8 1161.8,363.8 1164.4,364.9 1166.9,366.0 1169.5,367.2 1172.0,368.8 1174.6,370.3 1177.1,372.1 1179.7,374.3 1182.3,376.5 1184.8,378.1 1187.4,379.7 1189.9,382.3 1192.5,385.3 1195.0,385.9 1197.6,386.2 1200.2,385.9 1202.7,385.0 1205.3,384.0 1207.8,382.1 1210.4,380.3 1212.9,380.6 1215.5,381.6 1218.0,382.8 1220.6,384.2 1223.2,385.7 1225.7,388.2 1228.3,390.7 1230.8,392.8 1233.4,394.8 1235.9,396.7 1238.5,398.3 1241.1,399.7 1243.6,401.1 1246.2,402.1 1248.7,402.9 1251.3,403.7 1253.8,403.5 1256.4,403.3 1258.9,402.5 1261.5,401.5 1264.1,397.8 1266.6,391.2 1269.2,381.4 1271.7,368.0 1274.3,351.0 1276.8,325.9 1279.4,294.1 1282.0,255.7 1284.5,223.3 1287.1,194.2 1289.6,159.9 1292.2,139.2 1294.7,121.7 1297.3,112.1 1299.8,108.9 1302.4,112.5 1305.0,124.2 1307.5,138.9 1310.1,155.5 1312.6,180.8 1315.2,199.9 1317.7,212.2 1320.3,222.2 1322.9,231.2 1325.4,236.7 1328.0,240.3 1330.5,242.2 1333.1,242.2 1335.6,239.0 1338.2,236.3 1340.7,233.8 1343.3,230.6 1345.9,225.3 1348.4,217.7 1351.0,210.1 1353.5,203.1 1356.1,195.0 1358.6,185.2 1361.2,177.1 1363.8,169.4 1366.3,165.8 1368.9,165.7 1371.4,164.0 1374.0,160.1 1376.5,156.0 1379.1,154.7 1381.6,152.3 1384.2,147.9 1386.8,143.6 1389.3,141.2 1391.9,140.5 1394.4,139.3 1397.0,137.8 1399.5,137.1 1402.1,136.4 1404.6,137.0 1407.2,139.3 1409.8,142.6 1412.3,146.6 1414.9,153.9 1417.4,166.0 1420.0,179.5 1422.5,191.4 1425.1,202.5 1427.7,213.9 1430.2,225.1 1432.8,234.4 1435.3,240.7 1437.9,245.8 1440.4,247.2 1443.0,249.2 1445.5,252.3 1448.1,256.7 1450.7,261.2 1453.2,266.3 1455.8,273.1 1458.3,280.5 1460.9,287.9 1463.4,293.6 1466.0,299.3 1468.6,305.1 1471.1,310.9 1473.7,315.0 1476.2,319.1"/>
<polyline fill="none" stroke="#ed7d31" stroke-width="1.65" stroke-linejoin="round" stroke-linecap="round" points="113.8,442.3 116.3,442.0 118.9,441.8 121.4,441.8 124.0,441.7 126.6,441.7 129.1,441.7 131.7,441.6 134.2,441.6 136.8,441.7 139.3,441.9 141.9,442.1 144.5,442.2 147.0,442.3 149.6,442.4 152.1,442.3 154.7,442.3 157.2,442.2 159.8,441.7 162.3,441.1 164.9,440.6 167.5,439.7 170.0,438.7 172.6,437.7 175.1,436.9 177.7,436.3 180.2,435.8 182.8,435.2 185.4,432.5 187.9,428.9 190.5,428.7 193.0,428.6 195.6,428.5 198.1,425.3 200.7,421.9 203.2,419.8 205.8,419.6 208.4,419.8 210.9,420.1 213.5,421.1 216.0,424.1 218.6,427.9 221.1,429.9 223.7,431.9 226.2,432.7 228.8,433.3 231.4,432.8 233.9,432.3 236.5,431.8 239.0,432.5 241.6,433.3 244.1,432.9 246.7,432.8 249.3,433.5 251.8,434.1 254.4,434.6 256.9,435.2 259.5,436.1 262.0,436.8 264.6,437.4 267.1,437.7 269.7,437.4 272.3,437.2 274.8,437.0 277.4,436.9 279.9,436.8 282.5,436.4 285.0,435.9 287.6,436.4 290.2,437.6 292.7,438.8 295.3,439.4 297.8,439.7 300.4,440.1 302.9,440.3 305.5,440.5 308.0,440.8 310.6,440.6 313.2,440.2 315.7,439.9 318.3,439.5 320.8,439.1 323.4,439.6 325.9,439.8 328.5,439.8 331.1,439.8 333.6,439.9 336.2,440.1 338.7,440.3 341.3,440.5 343.8,440.7 346.4,440.8 348.9,441.0 351.5,441.1 354.1,441.0 356.6,440.9 359.2,440.9 361.7,440.8 364.3,441.0 366.8,441.2 369.4,441.4 372.0,441.4 374.5,441.1 377.1,440.8 379.6,440.5 382.2,440.4 384.7,440.7 387.3,441.0 389.8,441.3 392.4,441.5 395.0,441.4 397.5,441.4 400.1,441.3 402.6,441.1 405.2,440.5 407.7,439.9 410.3,439.5 412.9,438.9 415.4,438.0 418.0,437.3 420.5,436.5 423.1,436.0 425.6,436.8 428.2,435.8 430.7,437.6 433.3,438.7 435.9,439.6 438.4,439.9 441.0,440.2 443.5,440.2 446.1,439.9 448.6,439.7 451.2,439.3 453.8,438.7 456.3,439.0 458.9,439.5 461.4,439.6 464.0,439.7 466.5,439.8 469.1,440.0 471.6,440.1 474.2,440.0 476.8,439.9 479.3,439.9 481.9,439.5 484.4,438.9 487.0,438.4 489.5,438.1 492.1,437.9 494.6,437.2 497.2,436.5 499.8,436.4 502.3,436.3 504.9,435.6 507.4,434.7 510.0,434.5 512.5,434.2 515.1,433.4 517.7,433.9 520.2,434.5 522.8,434.8 525.3,434.9 527.9,434.9 530.4,434.5 533.0,435.5 535.5,435.5 538.1,435.3 540.7,435.1 543.2,435.0 545.8,435.1 548.3,435.2 550.9,435.9 553.4,435.1 556.0,433.7 558.6,433.4 561.1,433.6 563.7,435.1 566.2,435.5 568.8,435.2 571.3,436.0 573.9,435.9 576.4,435.8 579.0,436.0 581.6,435.2 584.1,434.5 586.7,434.8 589.2,435.1 591.8,435.6 594.3,436.3 596.9,436.9 599.5,437.6 602.0,437.7 604.6,437.6 607.1,437.3 609.7,436.8 612.2,436.3 614.8,436.0 617.3,435.7 619.9,435.3 622.5,435.0 625.0,435.5 627.6,436.1 630.1,436.4 632.7,436.5 635.2,436.6 637.8,436.7 640.4,436.8 642.9,436.5 645.5,436.1 648.0,435.7 650.6,435.3 653.1,435.5 655.7,435.9 658.2,435.9 660.8,435.5 663.4,435.1 665.9,435.4 668.5,436.0 671.0,436.1 673.6,435.7 676.1,435.2 678.7,435.5 681.2,435.8 683.8,436.3 686.4,437.1 688.9,438.0 691.5,438.3 694.0,438.6 696.6,439.2 699.1,439.7 701.7,439.7 704.3,439.6 706.8,439.5 709.4,439.4 711.9,439.2 714.5,438.4 717.0,437.6 719.6,436.8 722.1,436.1 724.7,435.5 727.3,434.9 729.8,434.5 732.4,434.2 734.9,434.3 737.5,434.3 740.0,434.4 742.6,435.0 745.2,435.6 747.7,435.6 750.3,435.7 752.8,437.1 755.4,438.4 757.9,439.5 760.5,438.8 763.0,438.3 765.6,438.6 768.2,438.9 770.7,438.6 773.3,438.3 775.8,438.2 778.4,438.3 780.9,438.3 783.5,438.4 786.1,439.2 788.6,439.9 791.2,440.2 793.7,440.5 796.3,440.8 798.8,440.9 801.4,440.9 803.9,440.9 806.5,440.9 809.1,440.9 811.6,440.9 814.2,440.9 816.7,440.9 819.3,440.9 821.8,440.9 824.4,440.8 827.0,440.2 829.5,438.3 832.1,435.2 834.6,431.9 837.2,429.4 839.7,427.0 842.3,424.0 844.8,419.9 847.4,418.1 850.0,417.8 852.5,418.1 855.1,419.3 857.6,420.2 860.2,418.5 862.7,418.5 865.3,418.6 867.9,418.5 870.4,416.9 873.0,415.4 875.5,414.1 878.1,414.5 880.6,414.9 883.2,414.7 885.7,414.1 888.3,414.3 890.9,414.4 893.4,414.6 896.0,413.3 898.5,411.4 901.1,408.9 903.6,407.7 906.2,406.4 908.8,405.5 911.3,403.8 913.9,399.6 916.4,397.8 919.0,393.2 921.5,390.5 924.1,387.7 926.6,384.2 929.2,380.8 931.8,377.4 934.3,373.4 936.9,366.7 939.4,360.2 942.0,356.3 944.5,353.2 947.1,347.6 949.6,344.4 952.2,342.8 954.8,343.6 957.3,346.9 959.9,349.2 962.4,352.9 965.0,356.1 967.5,362.2 970.1,367.5 972.7,375.1 975.2,378.9 977.8,381.2 980.3,380.7 982.9,384.1 985.4,388.6 988.0,393.4 990.5,396.3 993.1,399.8 995.7,403.7 998.2,407.7 1000.8,408.7 1003.3,409.6 1005.9,408.7 1008.4,411.1 1011.0,411.8 1013.6,412.1 1016.1,412.4 1018.7,412.2 1021.2,412.5 1023.8,413.8 1026.3,412.1 1028.9,412.7 1031.4,412.7 1034.0,412.1 1036.6,413.1 1039.1,412.9 1041.7,413.0 1044.2,414.3 1046.8,411.7 1049.3,413.3 1051.9,413.9 1054.5,414.0 1057.0,413.8 1059.6,412.8 1062.1,411.8 1064.7,410.8 1067.2,409.1 1069.8,407.1 1072.3,405.2 1074.9,403.3 1077.5,401.3 1080.0,397.5 1082.6,394.0 1085.1,391.3 1087.7,388.6 1090.2,384.1 1092.8,379.4 1095.4,376.3 1097.9,373.4 1100.5,370.8 1103.0,369.8 1105.6,369.0 1108.1,368.4 1110.7,367.9 1113.2,368.0 1115.8,369.2 1118.4,366.8 1120.9,363.0 1123.5,363.0 1126.0,358.4 1128.6,354.0 1131.1,350.0 1133.7,347.4 1136.2,348.3 1138.8,350.9 1141.4,353.9 1143.9,356.1 1146.5,358.4 1149.0,360.4 1151.6,362.4 1154.1,362.2 1156.7,362.2 1159.3,363.7 1161.8,365.2 1164.4,365.8 1166.9,366.1 1169.5,367.4 1172.0,368.5 1174.6,368.2 1177.1,368.7 1179.7,370.8 1182.3,375.8 1184.8,377.7 1187.4,379.6 1189.9,383.1 1192.5,387.4 1195.0,386.7 1197.6,385.9 1200.2,385.2 1202.7,386.4 1205.3,386.9 1207.8,383.2 1210.4,379.9 1212.9,381.6 1215.5,383.3 1218.0,383.6 1220.6,383.9 1223.2,386.0 1225.7,389.3 1228.3,391.5 1230.8,393.6 1233.4,395.4 1235.9,396.9 1238.5,398.0 1241.1,398.9 1243.6,399.7 1246.2,400.7 1248.7,402.0 1251.3,404.0 1253.8,403.2 1256.4,401.7 1258.9,399.0 1261.5,397.1 1264.1,396.1 1266.6,394.2 1269.2,384.2 1271.7,368.2 1274.3,345.4 1276.8,323.3 1279.4,296.9 1282.0,259.0 1284.5,226.3 1287.1,192.0 1289.6,157.5 1292.2,135.6 1294.7,121.6 1297.3,121.6 1299.8,108.2 1302.4,97.4 1305.0,115.8 1307.5,134.2 1310.1,153.2 1312.6,173.1 1315.2,194.8 1317.7,210.4 1320.3,221.8 1322.9,231.0 1325.4,238.2 1328.0,241.3 1330.5,243.4 1333.1,244.8 1335.6,241.3 1338.2,237.4 1340.7,232.9 1343.3,230.2 1345.9,226.2 1348.4,219.6 1351.0,211.9 1353.5,204.5 1356.1,200.1 1358.6,192.1 1361.2,180.3 1363.8,176.6 1366.3,169.2 1368.9,166.3 1371.4,165.6 1374.0,161.7 1376.5,157.7 1379.1,156.1 1381.6,146.5 1384.2,140.3 1386.8,140.8 1389.3,143.4 1391.9,142.3 1394.4,141.8 1397.0,143.2 1399.5,143.2 1402.1,141.1 1404.6,137.6 1407.2,140.0 1409.8,145.6 1412.3,147.2 1414.9,152.8 1417.4,165.7 1420.0,179.0 1422.5,191.5 1425.1,203.5 1427.7,215.3 1430.2,226.1 1432.8,235.5 1435.3,240.7 1437.9,245.8"/>
<text class="n" text-anchor="end" transform="translate(99.8,448.9) scale(0.817,1)">0</text>
<text class="n" text-anchor="end" transform="translate(99.8,403.8) scale(0.817,1)">50</text>
<text class="n" text-anchor="end" transform="translate(99.8,357.9) scale(0.817,1)">100</text>
<text class="n" text-anchor="end" transform="translate(99.8,312.4) scale(0.817,1)">150</text>
<text class="n" text-anchor="end" transform="translate(99.8,266.8) scale(0.817,1)">200</text>
<text class="n" text-anchor="end" transform="translate(99.8,221.4) scale(0.817,1)">250</text>
<text class="n" text-anchor="end" transform="translate(99.8,175.8) scale(0.817,1)">300</text>
<text class="n" text-anchor="end" transform="translate(99.8,129.9) scale(0.817,1)">350</text>
<text class="n" text-anchor="end" transform="translate(99.8,83.9) scale(0.817,1)">400</text>
<text class="r" transform="translate(1491.2,448.9) scale(0.817,1)">0</text>
<text class="r" transform="translate(1491.2,375.9) scale(0.817,1)">50</text>
<text class="r" transform="translate(1491.2,302.9) scale(0.817,1)">100</text>
<text class="r" transform="translate(1491.2,229.9) scale(0.817,1)">150</text>
<text class="r" transform="translate(1491.2,156.9) scale(0.817,1)">200</text>
<text class="r" transform="translate(1491.2,83.9) scale(0.817,1)">250</text>
<text class="d" text-anchor="end" transform="translate(118.68,450.9) rotate(-90) scale(1.10,1)">01-10-20</text>
<text class="d" text-anchor="end" transform="translate(136.57,450.9) rotate(-90) scale(1.10,1)">08-10-20</text>
<text class="d" text-anchor="end" transform="translate(154.46,450.9) rotate(-90) scale(1.10,1)">15-10-20</text>
<text class="d" text-anchor="end" transform="translate(172.36,450.9) rotate(-90) scale(1.10,1)">22-10-20</text>
<text class="d" text-anchor="end" transform="translate(190.25,450.9) rotate(-90) scale(1.10,1)">29-10-20</text>
<text class="d" text-anchor="end" transform="translate(208.14,450.9) rotate(-90) scale(1.10,1)">05-11-20</text>
<text class="d" text-anchor="end" transform="translate(226.04,450.9) rotate(-90) scale(1.10,1)">12-11-20</text>
<text class="d" text-anchor="end" transform="translate(243.93,450.9) rotate(-90) scale(1.10,1)">19-11-20</text>
<text class="d" text-anchor="end" transform="translate(261.82,450.9) rotate(-90) scale(1.10,1)">26-11-20</text>
<text class="d" text-anchor="end" transform="translate(279.72,450.9) rotate(-90) scale(1.10,1)">03-12-20</text>
<text class="d" text-anchor="end" transform="translate(297.61,450.9) rotate(-90) scale(1.10,1)">10-12-20</text>
<text class="d" text-anchor="end" transform="translate(315.50,450.9) rotate(-90) scale(1.10,1)">17-12-20</text>
<text class="d" text-anchor="end" transform="translate(333.40,450.9) rotate(-90) scale(1.10,1)">24-12-20</text>
<text class="d" text-anchor="end" transform="translate(351.29,450.9) rotate(-90) scale(1.10,1)">31-12-20</text>
<text class="d" text-anchor="end" transform="translate(369.18,450.9) rotate(-90) scale(1.10,1)">07-01-21</text>
<text class="d" text-anchor="end" transform="translate(387.08,450.9) rotate(-90) scale(1.10,1)">14-01-21</text>
<text class="d" text-anchor="end" transform="translate(404.97,450.9) rotate(-90) scale(1.10,1)">21-01-21</text>
<text class="d" text-anchor="end" transform="translate(422.86,450.9) rotate(-90) scale(1.10,1)">28-01-21</text>
<text class="d" text-anchor="end" transform="translate(440.76,450.9) rotate(-90) scale(1.10,1)">04-02-21</text>
<text class="d" text-anchor="end" transform="translate(458.65,450.9) rotate(-90) scale(1.10,1)">11-02-21</text>
<text class="d" text-anchor="end" transform="translate(476.54,450.9) rotate(-90) scale(1.10,1)">18-02-21</text>
<text class="d" text-anchor="end" transform="translate(494.44,450.9) rotate(-90) scale(1.10,1)">25-02-21</text>
<text class="d" text-anchor="end" transform="translate(512.33,450.9) rotate(-90) scale(1.10,1)">04-03-21</text>
<text class="d" text-anchor="end" transform="translate(530.22,450.9) rotate(-90) scale(1.10,1)">11-03-21</text>
<text class="d" text-anchor="end" transform="translate(548.12,450.9) rotate(-90) scale(1.10,1)">18-03-21</text>
<text class="d" text-anchor="end" transform="translate(566.01,450.9) rotate(-90) scale(1.10,1)">25-03-21</text>
<text class="d" text-anchor="end" transform="translate(583.90,450.9) rotate(-90) scale(1.10,1)">01-04-21</text>
<text class="d" text-anchor="end" transform="translate(601.80,450.9) rotate(-90) scale(1.10,1)">08-04-21</text>
<text class="d" text-anchor="end" transform="translate(619.69,450.9) rotate(-90) scale(1.10,1)">15-04-21</text>
<text class="d" text-anchor="end" transform="translate(637.58,450.9) rotate(-90) scale(1.10,1)">22-04-21</text>
<text class="d" text-anchor="end" transform="translate(655.48,450.9) rotate(-90) scale(1.10,1)">29-04-21</text>
<text class="d" text-anchor="end" transform="translate(673.37,450.9) rotate(-90) scale(1.10,1)">06-05-21</text>
<text class="d" text-anchor="end" transform="translate(691.26,450.9) rotate(-90) scale(1.10,1)">13-05-21</text>
<text class="d" text-anchor="end" transform="translate(709.16,450.9) rotate(-90) scale(1.10,1)">20-05-21</text>
<text class="d" text-anchor="end" transform="translate(727.05,450.9) rotate(-90) scale(1.10,1)">27-05-21</text>
<text class="d" text-anchor="end" transform="translate(744.94,450.9) rotate(-90) scale(1.10,1)">03-06-21</text>
<text class="d" text-anchor="end" transform="translate(762.84,450.9) rotate(-90) scale(1.10,1)">10-06-21</text>
<text class="d" text-anchor="end" transform="translate(780.73,450.9) rotate(-90) scale(1.10,1)">17-06-21</text>
<text class="d" text-anchor="end" transform="translate(798.62,450.9) rotate(-90) scale(1.10,1)">24-06-21</text>
<text class="d" text-anchor="end" transform="translate(816.52,450.9) rotate(-90) scale(1.10,1)">01-07-21</text>
<text class="d" text-anchor="end" transform="translate(834.41,450.9) rotate(-90) scale(1.10,1)">08-07-21</text>
<text class="d" text-anchor="end" transform="translate(852.30,450.9) rotate(-90) scale(1.10,1)">15-07-21</text>
<text class="d" text-anchor="end" transform="translate(870.19,450.9) rotate(-90) scale(1.10,1)">22-07-21</text>
<text class="d" text-anchor="end" transform="translate(888.09,450.9) rotate(-90) scale(1.10,1)">29-07-21</text>
<text class="d" text-anchor="end" transform="translate(905.98,450.9) rotate(-90) scale(1.10,1)">05-08-21</text>
<text class="d" text-anchor="end" transform="translate(923.87,450.9) rotate(-90) scale(1.10,1)">12-08-21</text>
<text class="d" text-anchor="end" transform="translate(941.77,450.9) rotate(-90) scale(1.10,1)">19-08-21</text>
<text class="d" text-anchor="end" transform="translate(959.66,450.9) rotate(-90) scale(1.10,1)">26-08-21</text>
<text class="d" text-anchor="end" transform="translate(977.55,450.9) rotate(-90) scale(1.10,1)">02-09-21</text>
<text class="d" text-anchor="end" transform="translate(995.45,450.9) rotate(-90) scale(1.10,1)">09-09-21</text>
<text class="d" text-anchor="end" transform="translate(1013.34,450.9) rotate(-90) scale(1.10,1)">16-09-21</text>
<text class="d" text-anchor="end" transform="translate(1031.23,450.9) rotate(-90) scale(1.10,1)">23-09-21</text>
<text class="d" text-anchor="end" transform="translate(1049.13,450.9) rotate(-90) scale(1.10,1)">30-09-21</text>
<text class="d" text-anchor="end" transform="translate(1067.02,450.9) rotate(-90) scale(1.10,1)">07-10-21</text>
<text class="d" text-anchor="end" transform="translate(1084.91,450.9) rotate(-90) scale(1.10,1)">14-10-21</text>
<text class="d" text-anchor="end" transform="translate(1102.81,450.9) rotate(-90) scale(1.10,1)">21-10-21</text>
<text class="d" text-anchor="end" transform="translate(1120.70,450.9) rotate(-90) scale(1.10,1)">28-10-21</text>
<text class="d" text-anchor="end" transform="translate(1138.59,450.9) rotate(-90) scale(1.10,1)">04-11-21</text>
<text class="d" text-anchor="end" transform="translate(1156.49,450.9) rotate(-90) scale(1.10,1)">11-11-21</text>
<text class="d" text-anchor="end" transform="translate(1174.38,450.9) rotate(-90) scale(1.10,1)">18-11-21</text>
<text class="d" text-anchor="end" transform="translate(1192.27,450.9) rotate(-90) scale(1.10,1)">25-11-21</text>
<text class="d" text-anchor="end" transform="translate(1210.17,450.9) rotate(-90) scale(1.10,1)">02-12-21</text>
<text class="d" text-anchor="end" transform="translate(1228.06,450.9) rotate(-90) scale(1.10,1)">09-12-21</text>
<text class="d" text-anchor="end" transform="translate(1245.95,450.9) rotate(-90) scale(1.10,1)">16-12-21</text>
<text class="d" text-anchor="end" transform="translate(1263.85,450.9) rotate(-90) scale(1.10,1)">23-12-21</text>
<text class="d" text-anchor="end" transform="translate(1281.74,450.9) rotate(-90) scale(1.10,1)">30-12-21</text>
<text class="d" text-anchor="end" transform="translate(1299.63,450.9) rotate(-90) scale(1.10,1)">06-01-22</text>
<text class="d" text-anchor="end" transform="translate(1317.53,450.9) rotate(-90) scale(1.10,1)">13-01-22</text>
<text class="d" text-anchor="end" transform="translate(1335.42,450.9) rotate(-90) scale(1.10,1)">20-01-22</text>
<text class="d" text-anchor="end" transform="translate(1353.31,450.9) rotate(-90) scale(1.10,1)">27-01-22</text>
<text class="d" text-anchor="end" transform="translate(1371.21,450.9) rotate(-90) scale(1.10,1)">03-02-22</text>
<text class="d" text-anchor="end" transform="translate(1389.10,450.9) rotate(-90) scale(1.10,1)">10-02-22</text>
<text class="d" text-anchor="end" transform="translate(1406.99,450.9) rotate(-90) scale(1.10,1)">17-02-22</text>
<text class="d" text-anchor="end" transform="translate(1424.89,450.9) rotate(-90) scale(1.10,1)">24-02-22</text>
<text class="d" text-anchor="end" transform="translate(1442.78,450.9) rotate(-90) scale(1.10,1)">03-03-22</text>
<text class="d" text-anchor="end" transform="translate(1460.67,450.9) rotate(-90) scale(1.10,1)">10-03-22</text>
<text class="d" text-anchor="end" transform="translate(1478.57,450.9) rotate(-90) scale(1.10,1)">17-03-22</text>
<text class="t" text-anchor="middle" transform="translate(16.6,240.8) rotate(-90)" letter-spacing="0.7">Ρυθμός μεταβολής κρουσμάτων</text>
<rect x="167.4" y="17.3" width="23.4" height="9.6" fill="#a6a6a6"/>
<text class="l" transform="translate(193.1,27.6) scale(0.8467,1)">Κρούσματα ανά 100.000 (Κυλιόμενος μέσος όρος 7 ημερών)</text>
<line x1="167.2" y1="51.8" x2="191" y2="51.8" stroke="#4472c4" stroke-width="1.8"/>
<text class="l" transform="translate(193.1,57.2) scale(0.8365,1)">Ρυθμός μεταβολής κρουσμάτων μοντέλου (7days moving average)</text>
<path d="M934.8 21.6h7.6M953.8 21.6h3.2" stroke="#ff0000" stroke-width="3.1" stroke-linecap="round" fill="none"/>
<text class="l" transform="translate(960.6,27.6) scale(0.8446,1)">Όριο μετάβασης σε κόκκινη περιοχή</text>
<line x1="934" y1="51.8" x2="957.8" y2="51.8" stroke="#ed7d31" stroke-width="1.8"/>
<text class="l" transform="translate(960.2,57.2) scale(0.833,1)">Ρυθμός μεταβολής επιβεβαιωμένων κρουσμάτων (7days moving average)</text>
</svg></body></html>
